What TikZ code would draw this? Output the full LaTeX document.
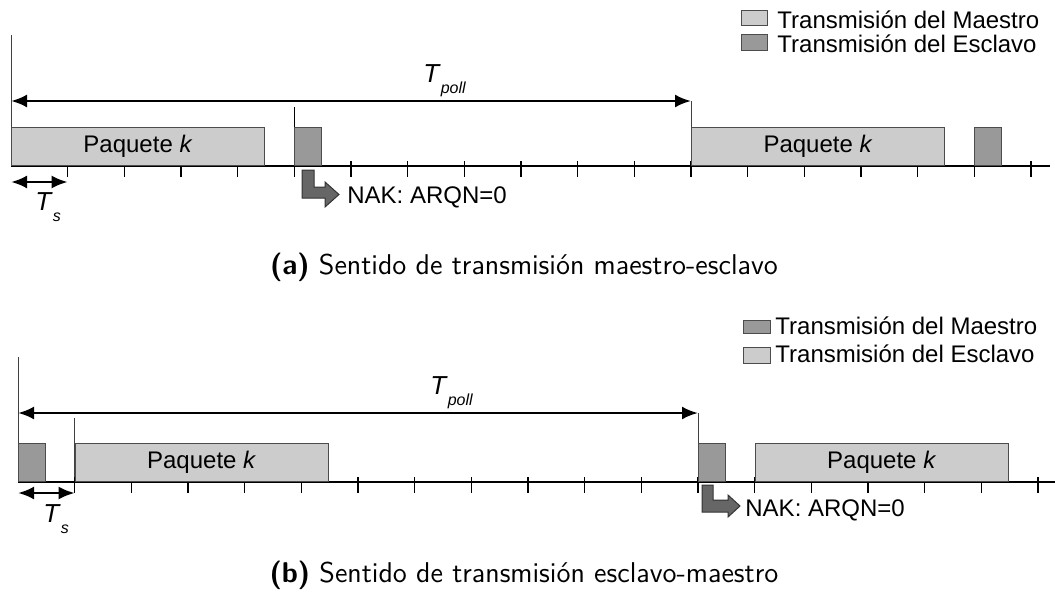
\documentclass[tikz,border=0pt]{standalone}
\usepackage{fontspec}
\newfontfamily\arialfont{Liberation Sans}
\usetikzlibrary{arrows.meta,positioning}
\definecolor{lightpkt}{gray}{0.8}
\definecolor{darkpkt}{gray}{0.6}
\definecolor{nakfill}{gray}{0.4}
\newcommand\lowsub[2]{\textit{#1}\raisebox{-5.5pt}{\fontsize{8}{9}\selectfont\textit{#2}}}
\tikzset{
	txt/.style={font=\arialfont\fontsize{12}{14}\selectfont, inner sep=0pt},
	pkt/.style={txt, draw=black!70, line width=0.5pt, anchor=south west, minimum height=19pt},
	lightpk/.style={pkt, fill=lightpkt, minimum width=126.5pt},
	darkpk/.style={pkt, fill=darkpkt, minimum width=13.5pt},
	legbox/.style={draw=black!70, line width=0.5pt},
	axisline/.style={line width=1pt},
	tickline/.style={line width=0.6pt},
	guide/.style={line width=0.5pt, black!75},
	span/.style={<->, line width=1.3pt, >={Latex[length=8pt,width=6.5pt]}},
	nak/.style={draw=black!80, fill=nakfill, line width=0.5pt},
	capt/.style={font=\sffamily\fontsize{14.3}{17}\selectfont, inner sep=0pt}
}
\begin{document}
\begin{tikzpicture}[x=0.5pt,y=-0.5pt]
	\useasboundingbox (0,0) rectangle (1055,594);
	% slot length
	\def\slot{56.67}
	% ---------- (a) maestro-esclavo ----------
	\draw[guide] (11,35) -- (11,166);
	\foreach \i in {1,...,18}
		\draw[tickline] ({11+\i*\slot},161) -- ({11+\i*\slot},177);
	\draw[tickline] ({11+5*\slot},107) -- ({11+5*\slot},161);
	\draw[guide] ({11+12*\slot},101) -- ({11+12*\slot},161);
	\draw[axisline] (11,166) -- (1050,166);
	% packets
	\node[lightpk] (pa1) at (11,166) {Paquete \textit{k}};
	\node[darkpk] (sa1) at ({11+5*\slot},166) {};
	\node[lightpk] (pa2) at ({11+12*\slot},166) {Paquete \textit{k}};
	\node[darkpk] (sa2) at ({11+17*\slot},166) {};
	% spans
	\coordinate (pollA0) at (11,101);
	\coordinate (pollA1) at ({11+12*\slot},101);
	\draw[span] (pollA0) -- (pollA1);
	\node[txt, anchor=base west] (tpollA) at (423,83) {\fontsize{13}{15}\selectfont\lowsub{T}{poll}};
	\coordinate (tsA0) at (11,182);
	\coordinate (tsA1) at ({11+\slot},182);
	\draw[span] (tsA0) -- (tsA1);
	\node[txt, anchor=base west] (tsA) at (35,210) {\fontsize{13}{15}\selectfont\lowsub{T}{s}};
	% NAK
	\coordinate (nakA) at (302,170);
	\draw[nak] (nakA) -- ++(12,0) -- ++(0,17) -- ++(11,0) -- ++(0,-5) -- ++(14,12.5)
		-- ++(-14,12.5) -- ++(0,-9) -- ++(-23,0) -- cycle;
	\node[txt, anchor=base west] (nakAtxt) at (347,203) {NAK: ARQN=0};
	% legend
	\draw[legbox, fill=lightpkt] (741,10) rectangle (767,25);
	\draw[legbox, fill=darkpkt] (741,34) rectangle (767,50);
	\node[txt, anchor=base west] (legA1) at (777,28) {Transmisión del Maestro};
	\node[txt, anchor=base west] (legA2) at (777,52) {Transmisión del Esclavo};
	\node[capt] (captA) at (524,267) {\textbf{(a)} Sentido de transmisión maestro-esclavo};
	% ---------- (b) esclavo-maestro ----------
	\draw[guide] (18,357) -- (18,482);
	\foreach \i in {1,...,18}
		\draw[tickline] ({18+\i*\slot},477) -- ({18+\i*\slot},493);
	\draw[guide] ({18+\slot},418) -- ({18+\slot},477);
	\draw[guide] ({18+12*\slot},413) -- ({18+12*\slot},477);
	\draw[axisline] (18,482) -- (1055,482);
	% packets
	\node[darkpk] (mb1) at (18,482) {};
	\node[lightpk] (pb1) at ({18+\slot},482) {Paquete \textit{k}};
	\node[darkpk] (mb2) at ({18+12*\slot},482) {};
	\node[lightpk] (pb2) at ({18+13*\slot},482) {Paquete \textit{k}};
	% spans
	\coordinate (pollB0) at (18,413);
	\coordinate (pollB1) at ({18+12*\slot},413);
	\draw[span] (pollB0) -- (pollB1);
	\node[txt, anchor=base west] (tpollB) at (430,394) {\fontsize{13}{15}\selectfont\lowsub{T}{poll}};
	\coordinate (tsB0) at (18,493);
	\coordinate (tsB1) at ({18+\slot},493);
	\draw[span] (tsB0) -- (tsB1);
	\node[txt, anchor=base west] (tsB) at (43,522) {\fontsize{13}{15}\selectfont\lowsub{T}{s}};
	% NAK
	\coordinate (nakB) at (702,485);
	\draw[nak] (nakB) -- ++(11,0) -- ++(0,15) -- ++(15,0) -- ++(0,-5) -- ++(12,11)
		-- ++(-12,11) -- ++(0,-5) -- ++(-26,0) -- cycle;
	\node[txt, anchor=base west] (nakBtxt) at (745,516) {NAK: ARQN=0};
	% legend
	\draw[legbox, fill=darkpkt] (743,320) rectangle (770,333);
	\draw[legbox, fill=lightpkt] (743,347) rectangle (770,363);
	\node[txt, anchor=base west] (legB1) at (775,334) {Transmisión del Maestro};
	\node[txt, anchor=base west] (legB2) at (775,362) {Transmisión del Esclavo};
	\node[capt] (captB) at (524,575) {\textbf{(b)} Sentido de transmisión esclavo-maestro};
\end{tikzpicture}
\end{document}
